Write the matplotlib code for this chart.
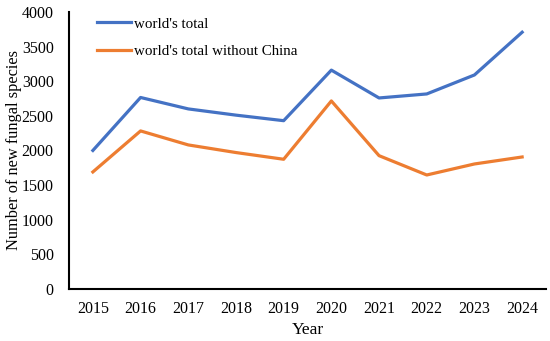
import numpy as np
import matplotlib
matplotlib.use("Agg")
from matplotlib import pyplot as plt

plt.rcParams['font.family'] = ['Liberation Serif', 'DejaVu Serif']

years = ['2015', '2016', '2017', '2018', '2019', '2020', '2021', '2022', '2023', '2024']
world_total = [2000, 2765, 2600, 2510, 2430, 3160, 2758, 2816, 3090, 3707]
without_china = [1690, 2282, 2080, 1970, 1873, 2715, 1925, 1646, 1805, 1906]

fig = plt.figure(figsize=(5.5, 3.41), dpi=100)
ax = fig.add_axes([0.1255, 0.1525, 0.8672, 0.8125])

x = np.arange(len(years))
ax.plot(x, world_total, color='#4472C4', lw=2.3, label="world's total")
ax.plot(x, without_china, color='#ED7D31', lw=2.3, label="world's total without China")

ax.set_xlim(-0.5, len(years) - 0.5)
ax.set_ylim(0, 4000)
ax.set_yticks(np.arange(0, 4001, 500))
ax.set_xticks(x)
ax.set_xticklabels(years)
ax.tick_params(length=0, labelsize=11.5, pad=9)
ax.tick_params(axis='y', pad=11)

for s in ['top', 'right']:
    ax.spines[s].set_visible(False)
for s in ['left', 'bottom']:
    ax.spines[s].set_linewidth(1.5)

ax.set_xlabel('Year', fontsize=12.5, labelpad=3)
ax.set_ylabel('Number of new fungal species', fontsize=11.8)
ax.yaxis.set_label_coords(-0.098, 0.5)

ax.legend(loc='upper left', frameon=False, fontsize=10.8, handlelength=2.3,
          labelspacing=0.95, handletextpad=0.2, bbox_to_anchor=(0.03, 1.03))

fig.savefig('out.png', dpi=100)
